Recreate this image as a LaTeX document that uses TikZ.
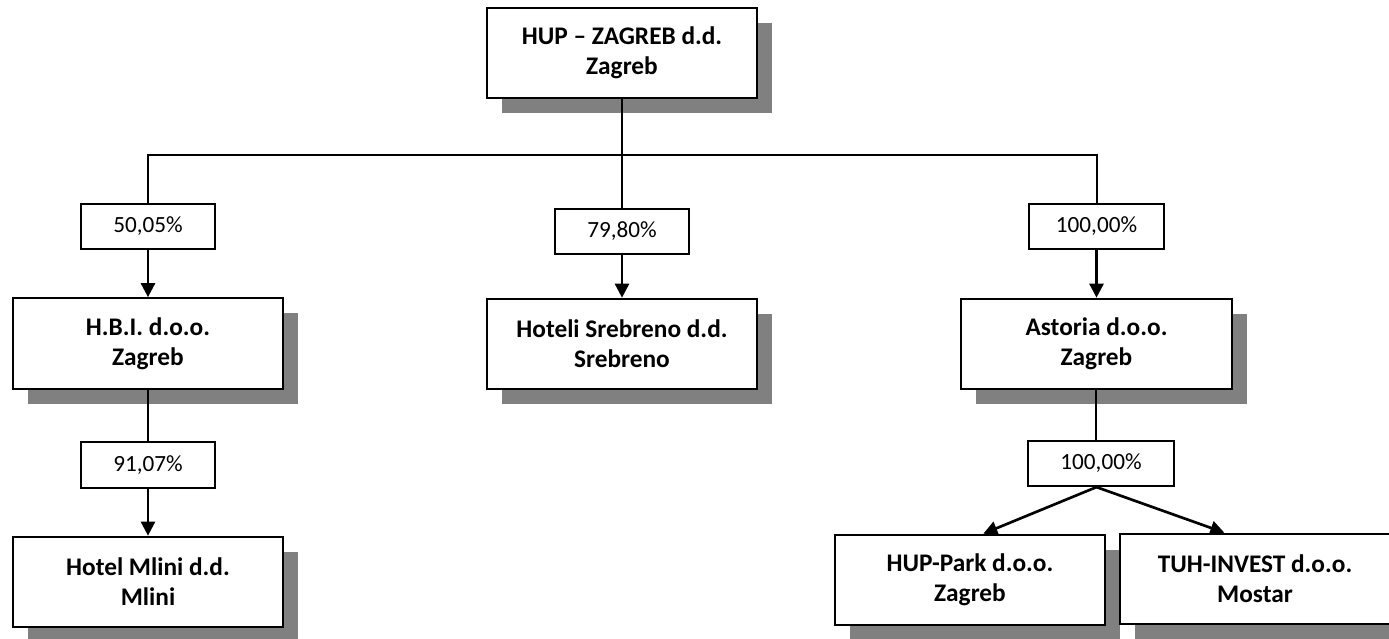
\documentclass[tikz,border=0pt]{standalone}
\usepackage{fontspec}
\setmainfont{Carlito}
\usetikzlibrary{shadows,arrows.meta}
\definecolor{shadowgray}{HTML}{808080}
\tikzset{
  orgbox/.style={draw=black, line width=1.5pt, fill=white, align=center,
    font=\bfseries\fontsize{19}{22.5}\selectfont,
    minimum width=203pt, minimum height=68pt, inner sep=0pt,
    drop shadow={fill=shadowgray, opacity=1, shadow xshift=11.25pt, shadow yshift=-11.25pt}},
  pctbox/.style={draw=black, line width=1.4pt, fill=white,
    font=\fontsize{17.4}{20}\selectfont,
    minimum width=101pt, minimum height=34pt, inner sep=0pt},
  link/.style={draw=black, line width=1.5pt},
  arr/.style={draw=black, line width=2pt, -{Triangle[length=10.5pt,width=10.5pt]}},
}
\begin{document}
\begin{tikzpicture}[x=0.75pt,y=-0.75pt]
\useasboundingbox (0,0) rectangle (1389,639);
\clip (0,0) rectangle (1389,639);
% organisation boxes
\node[orgbox] (top) at (622,53) {HUP – ZAGREB d.d.\\Zagreb};
\node[orgbox] (hbi) at (148,343.5) {H.B.I. d.o.o.\\Zagreb};
\node[orgbox] (srebreno) at (622,344) {Hoteli Srebreno d.d.\\Srebreno};
\node[orgbox] (astoria) at (1096.5,344) {Astoria d.o.o.\\Zagreb};
\node[orgbox] (mlini) at (148,582) {Hotel Mlini d.d.\\Mlini};
\node[orgbox] (hup) at (970,580) {HUP-Park d.o.o.\\Zagreb};
\node[orgbox] (tuh) at (1255,579) {TUH-INVEST d.o.o.\\Mostar};
% percentage boxes
\node[pctbox] (p1) at (148,226.5) {50,05\%};
\node[pctbox] (p2) at (622,231.5) {79,80\%};
\node[pctbox] (p3) at (1096.5,226.5) {100,00\%};
\node[pctbox] (p4) at (148,465) {91,07\%};
\node[pctbox, minimum width=109.5pt] (p5) at (1101,463.5) {100,00\%};
% connectors
\coordinate (bus) at (622,155);
\draw[link] (top.south) -- (p2.north);
\draw[link] (p1.north) |- (bus) -| (p3.north);
\draw[link] (hbi.south) -- (p4.north);
\draw[link] ([xshift=-3.4pt]p5.north |- astoria.south) -- ([xshift=-3.4pt]p5.north);
\draw[arr] (p1.south) -- (hbi.north);
\draw[arr] (p2.south) -- (srebreno.north);
\draw[arr] (p3.south) -- (astoria.north);
\draw[arr] (p4.south) -- (mlini.north);
\draw[arr] ([xshift=-3.4pt]p5.south) -- ([xshift=10pt]hup.north);
\draw[arr] ([xshift=-3.4pt]p5.south) -- ([xshift=-23pt]tuh.north);
\end{tikzpicture}
\end{document}
